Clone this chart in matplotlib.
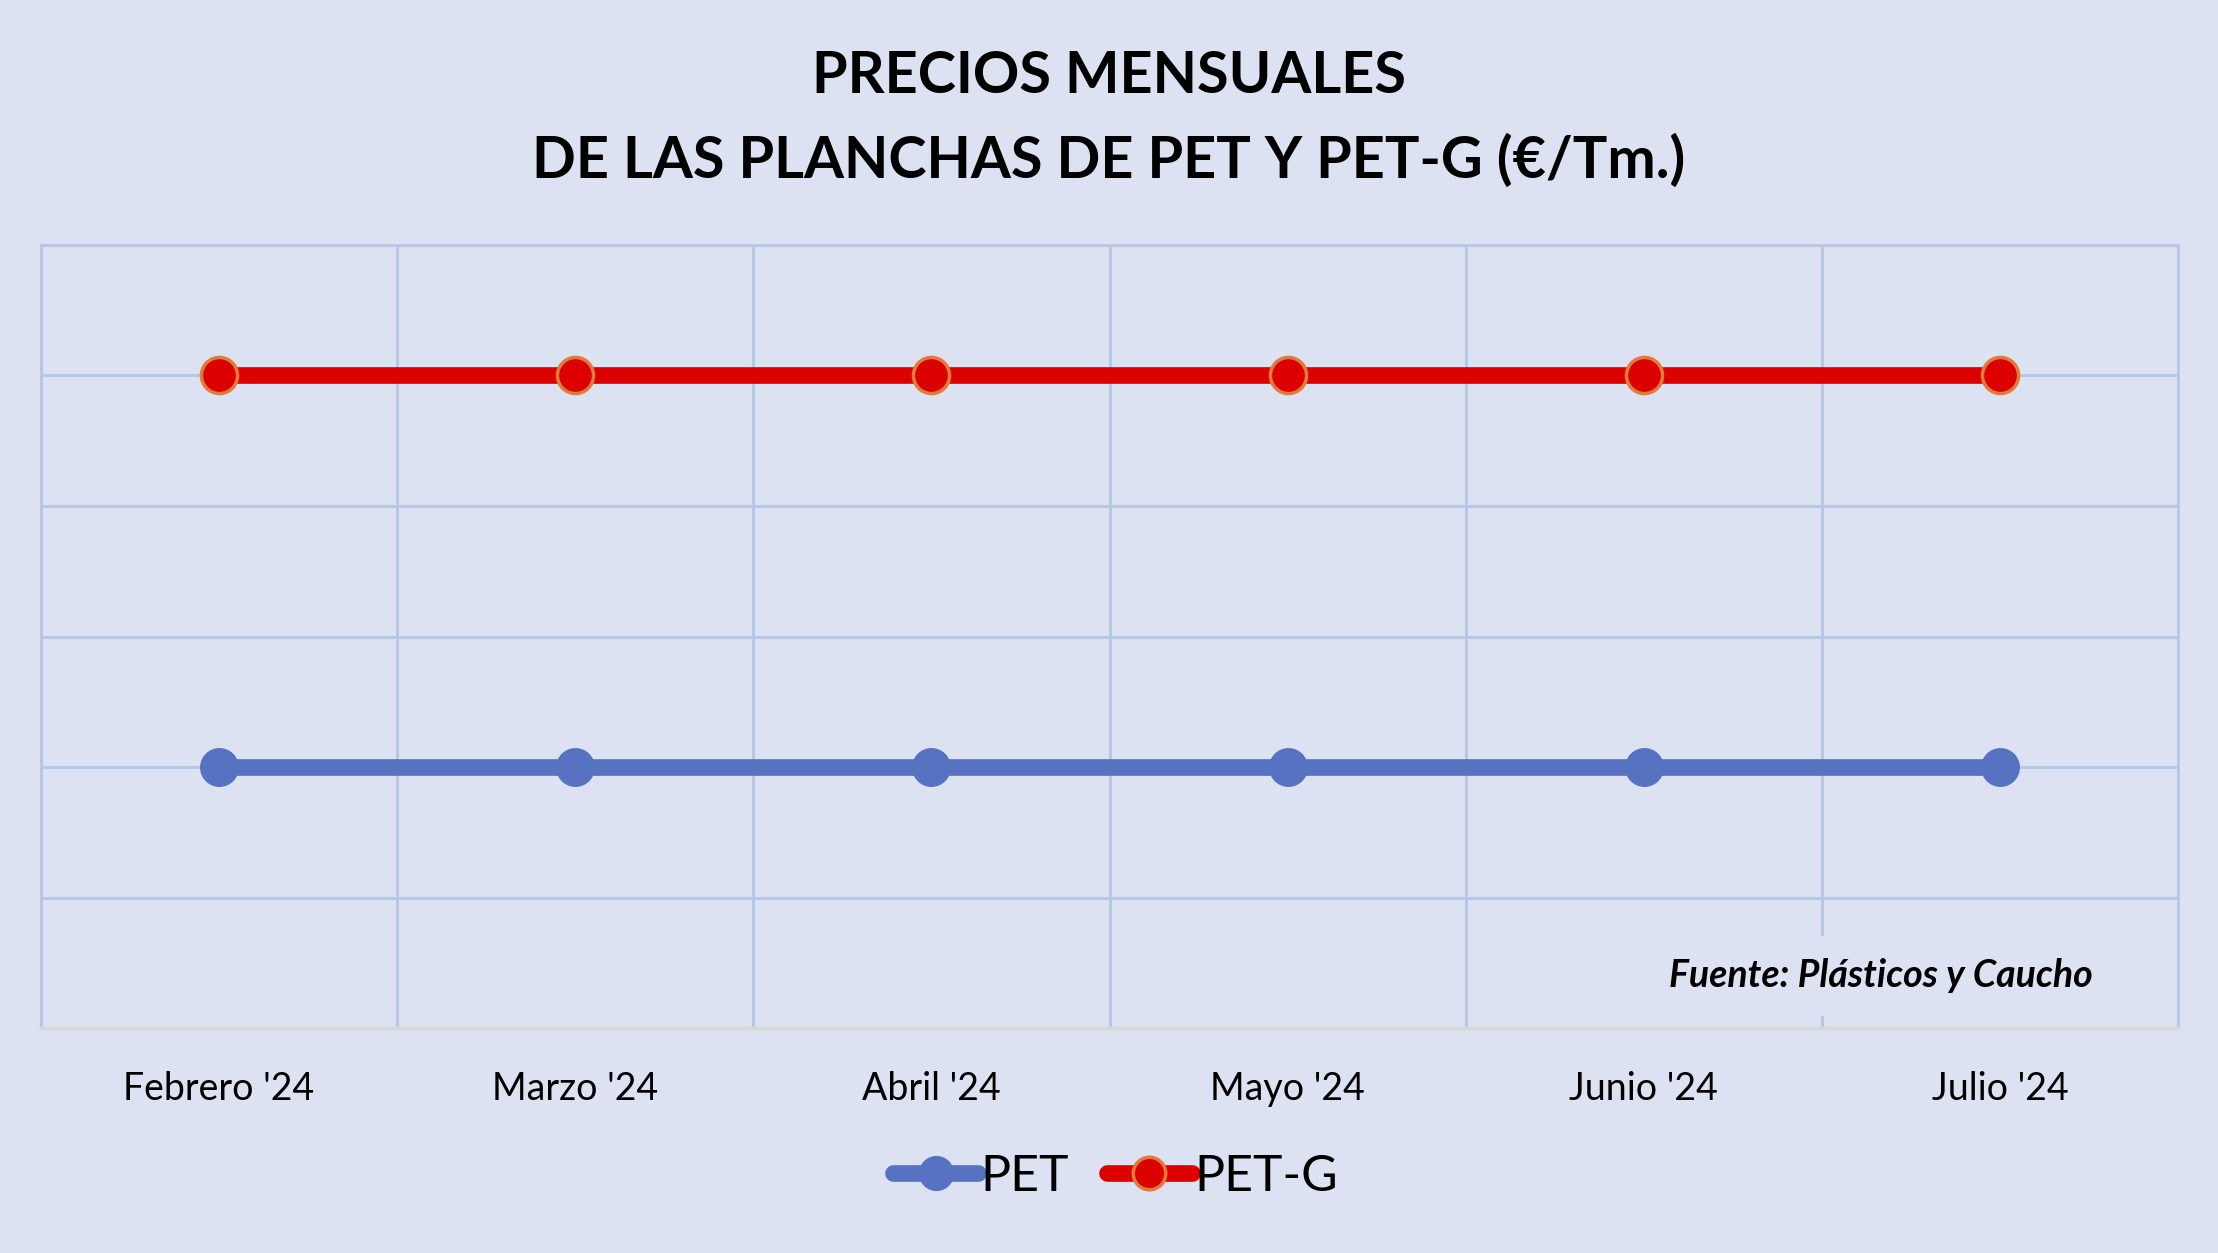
import matplotlib
matplotlib.use('Agg')
import matplotlib.pyplot as plt
import numpy as np

'''Data'''
meses = ["Febrero '24", "Marzo '24", "Abril '24", "Mayo '24", "Junio '24", "Julio '24"]
pet = [2000, 2000, 2000, 2000, 2000, 2000]
pet_g = [5000, 5000, 5000, 5000, 5000, 5000]
y_max = 6000
y_paso = 1000

fondo = '#DCE2F1'
rejilla = '#B7C8E6'
azul = '#5672C0'
rojo = '#DC0000'
naranja = '#E07B39'

plt.rcParams['font.family'] = ['Lato', 'DejaVu Sans']

fig = plt.figure(figsize=(22.18, 12.53), dpi=100, facecolor=fondo)
ax = fig.add_axes([0.0185, 0.1795, 0.9635, 0.625])
ax.set_facecolor(fondo)

x = np.arange(len(meses))
ax.plot(x, pet, color=azul, lw=12, marker='o', ms=27, mfc=azul, mec=azul,
        solid_capstyle='round', label='PET', zorder=4)
ax.plot(x, pet_g, color=rojo, lw=12, marker='o', ms=26, mfc=rojo, mec=naranja,
        mew=2.5, solid_capstyle='round', label='PET-G', zorder=4)

ax.set_xlim(-0.5, len(meses) - 0.5)
ax.set_ylim(0, y_max)
ax.set_yticks(np.arange(y_paso, y_max + 1, y_paso))
ax.set_yticklabels([])
ax.set_xticks(x)
ax.set_xticklabels(meses, fontsize=27)
ax.set_xticks(np.arange(0.5, len(meses) - 0.5, 1), minor=True)
ax.tick_params(axis='both', length=0, pad=31)
ax.tick_params(axis='x', which='minor', length=0)
ax.grid(True, axis='y', which='major', color=rejilla, lw=2.2, zorder=1)
ax.grid(True, axis='x', which='minor', color=rejilla, lw=2.2, zorder=1)

for lado in ['left', 'right', 'top']:
    ax.spines[lado].set_color(rejilla)
    ax.spines[lado].set_linewidth(2.2)
ax.spines['bottom'].set_color('#D9D9D9')
ax.spines['bottom'].set_linewidth(2.5)
ax.spines['bottom'].set_zorder(5)

# fuente (la caja tapa parte de la rejilla como en el original)
ax.text(0.960, 0.0668, 'Fuente: Plásticos y Caucho', transform=ax.transAxes,
        ha='right', va='center', fontsize=27, fontweight='bold', style='italic',
        bbox=dict(boxstyle='square,pad=0.6', fc=fondo, ec='none'), zorder=3)

fig.text(0.5, 0.939, 'PRECIOS MENSUALES', ha='center', va='center',
         fontsize=41.5, fontweight='bold')
fig.text(0.5, 0.872, 'DE LAS PLANCHAS DE PET Y PET-G (€/Tm.)', ha='center',
         va='center', fontsize=41.5, fontweight='bold')

fig.legend(loc='center', bbox_to_anchor=(0.503, 0.0607), ncol=2, frameon=False,
           fontsize=36, handlelength=1.7, handletextpad=0.05, columnspacing=0.75,
           markerscale=0.9)

fig.savefig('out.png', dpi=100, facecolor=fondo)
